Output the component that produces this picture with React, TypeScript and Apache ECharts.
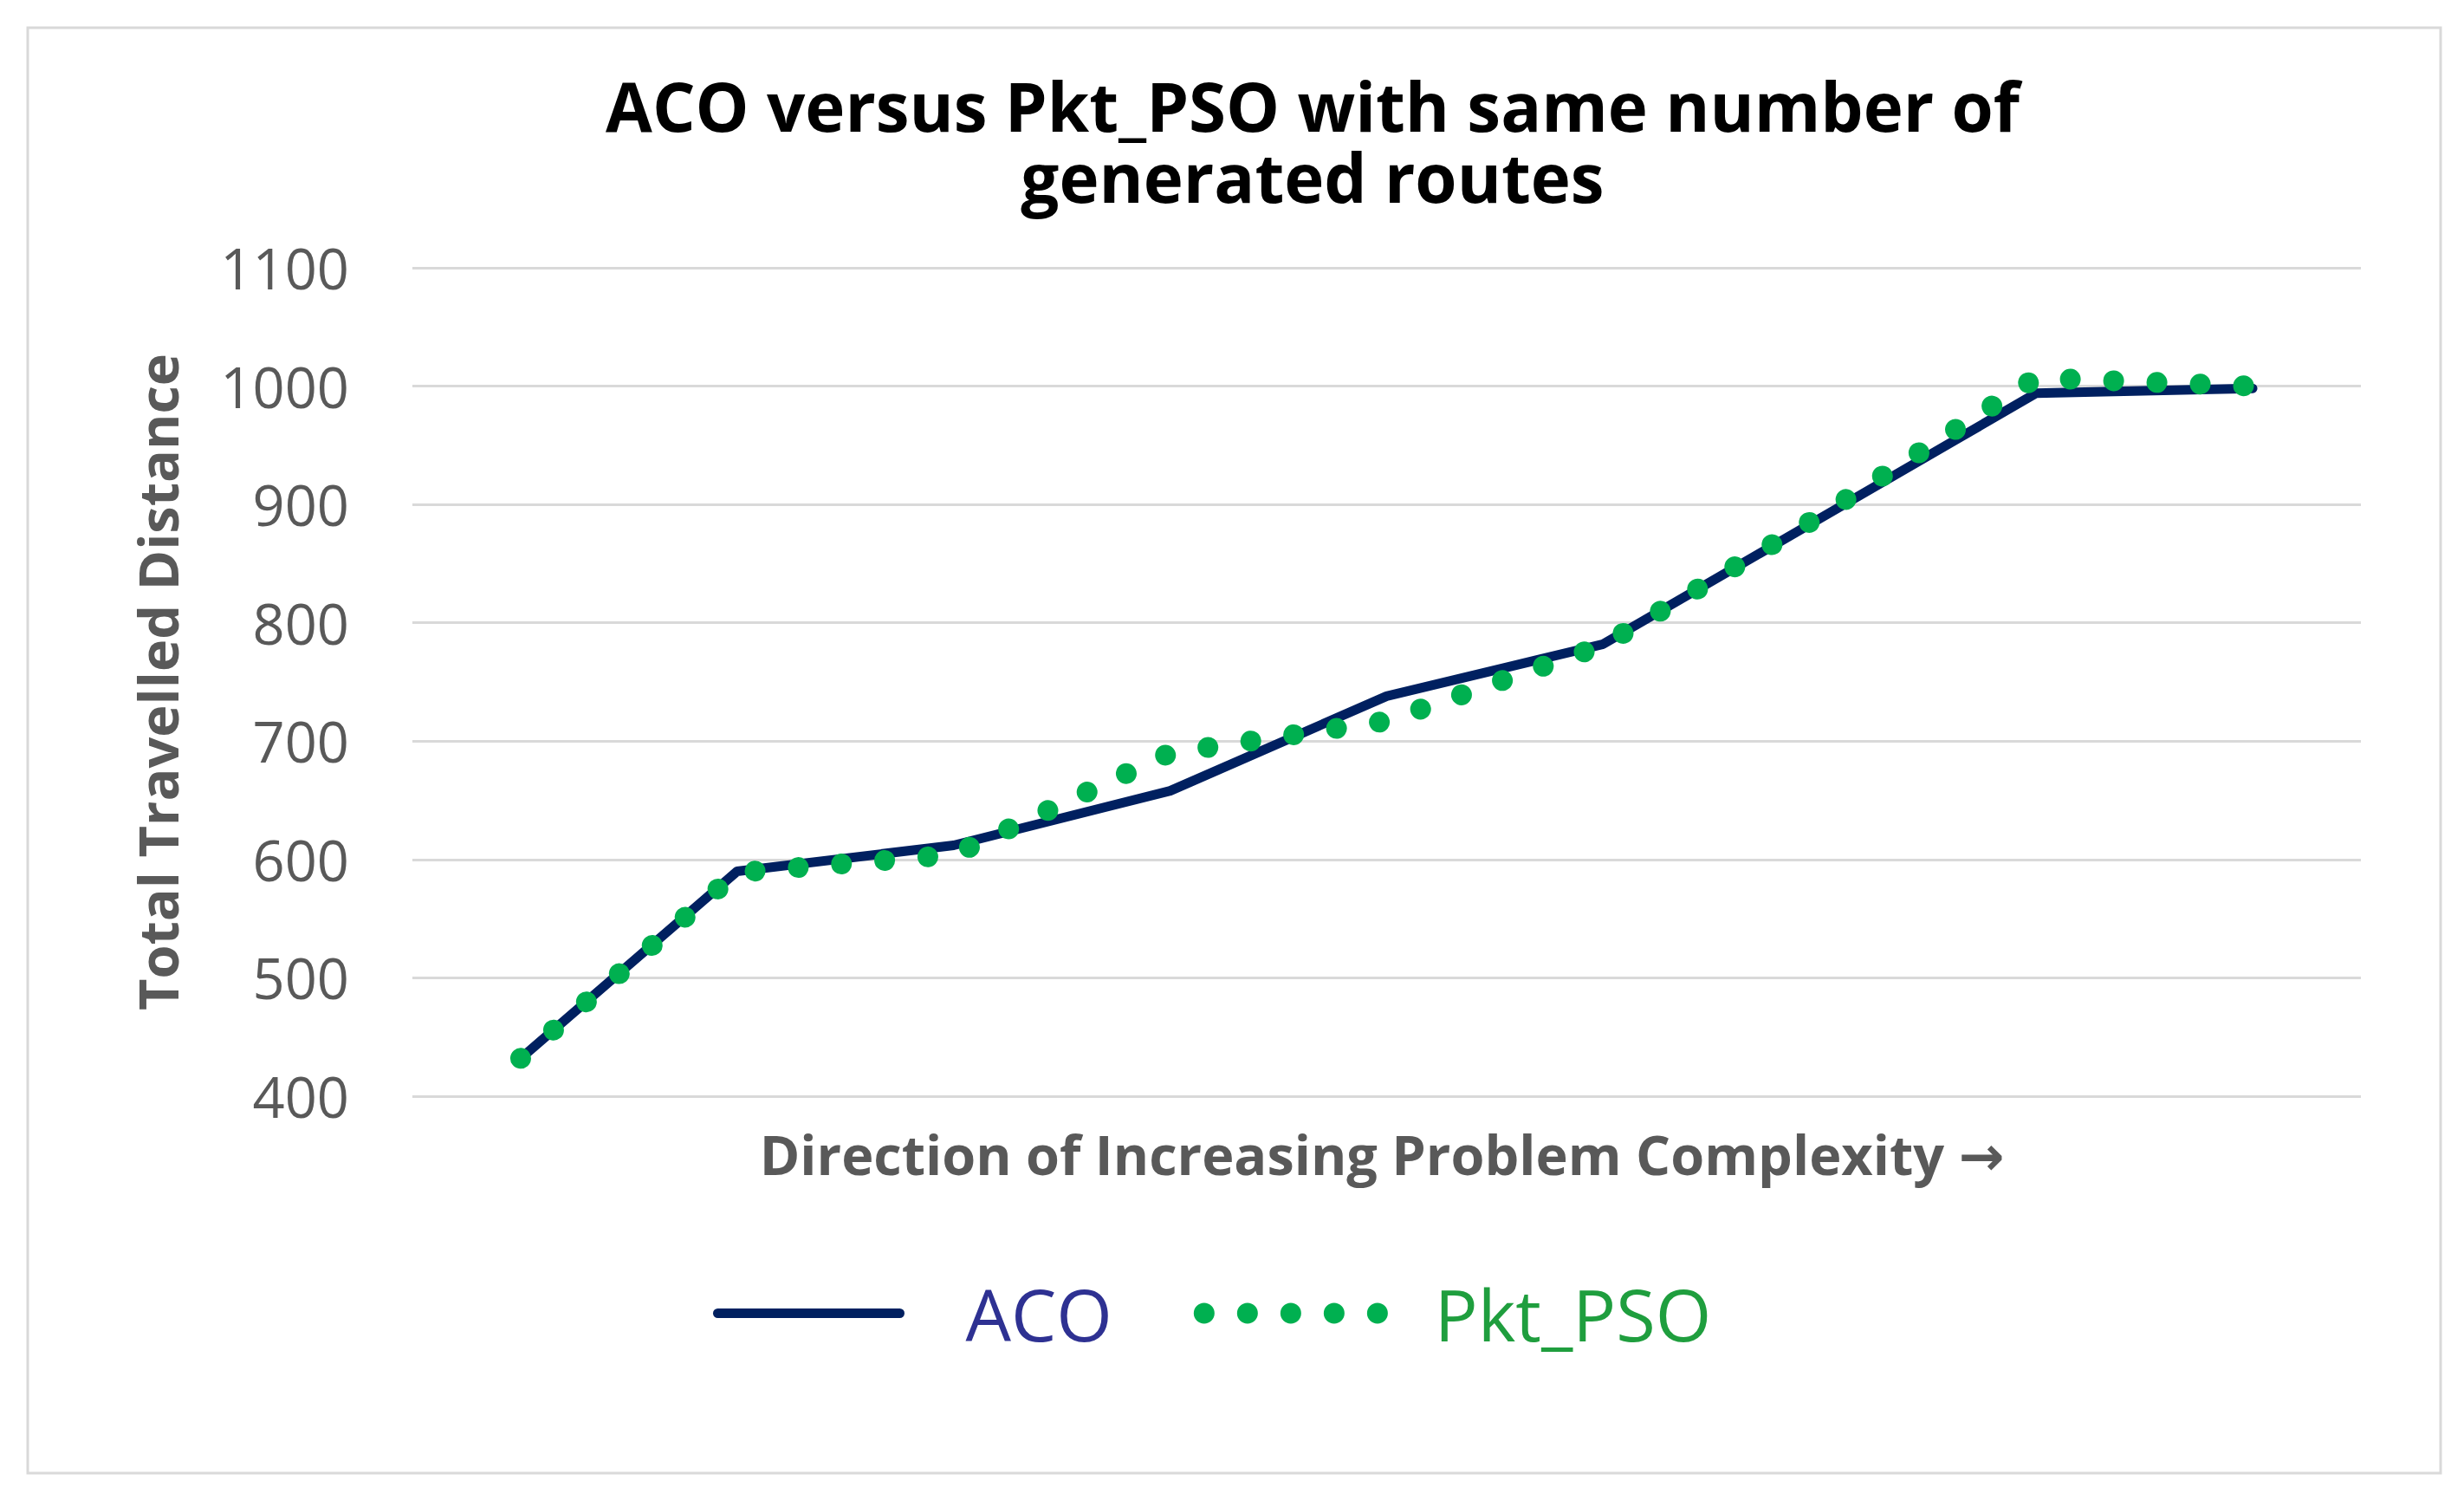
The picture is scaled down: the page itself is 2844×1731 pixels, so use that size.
import React, { useEffect, useRef } from "react";
import * as echarts from "echarts";

// ---- data ----
const categories = ["1", "2", "3", "4", "5", "6", "7", "8", "9"];
const acoValues = [432, 590, 612, 658, 738, 782, 888, 994, 998];
const pktPsoValues = [432, 589, 604, 690, 717, 781, 890, 1007, 1000];
const yMin = 400;
const yMax = 1100;
const yInterval = 100;
const titleLines = ["ACO versus Pkt_PSO with same number of", "generated routes"];
const xAxisName = "Direction of Increasing Problem Complexity \u2192";
const yAxisName = "Total Travelled Distance";
const seriesNames = ["ACO", "Pkt_PSO"];

const FONT = "'Open Sans', 'DejaVu Sans', sans-serif";

const ACO_COLOR = "#002060";
const PSO_COLOR = "#00B050";
const ACO_WIDTH = 11;
const PSO_WIDTH = 24;
const PSO_DASH = [0.01, 50];

const titleStyle = {
  fontFamily: FONT,
  fontWeight: "bold",
  fontSize: 78,
  lineHeight: 82,
  color: "#000000",
};

export default function App() {
  const ref = useRef<HTMLDivElement>(null);

  useEffect(() => {
    if (!ref.current) return;
    const chart = echarts.init(ref.current, undefined, { renderer: "svg" });
    chart.setOption({
      animation: false,
      backgroundColor: "#ffffff",
      title: titleLines.map((line, i) => ({
        text: line,
        left: 1515,
        top: 81 + i * 82,
        padding: 0,
        textAlign: "center",
        textStyle: titleStyle,
      })),
      graphic: [
        {
          type: "rect",
          shape: { x: 32, y: 32, width: 2785, height: 1668 },
          style: { fill: "none", stroke: "#D9D9D9", lineWidth: 3 },
          silent: true,
          z: -1,
        },
      ],
      legend: {
        left: 823,
        top: 1474,
        padding: 0,
        itemGap: 94,
        itemWidth: 210,
        itemHeight: 24,
        itemStyle: { opacity: 0 },
        textStyle: {
          fontFamily: FONT,
          fontSize: 83,
          padding: [0, 0, 0, 71],
        },
        data: [
          {
            name: seriesNames[0],
            textStyle: { color: "#2E3192", padding: [0, 0, 0, 71] },
            lineStyle: { width: ACO_WIDTH, color: ACO_COLOR, cap: "round" },
          },
          {
            name: seriesNames[1],
            textStyle: { color: "#1F9E3E", padding: [0, 0, 0, 51] },
            lineStyle: { width: PSO_WIDTH, color: PSO_COLOR, type: PSO_DASH, cap: "round" },
          },
        ],
      },
      grid: { left: 476, right: 119, top: 309, bottom: 466 },
      xAxis: {
        type: "category",
        data: categories,
        boundaryGap: true,
        axisLine: { show: false },
        axisTick: { show: false },
        axisLabel: { show: false },
        splitLine: { show: false },
        name: xAxisName,
        nameLocation: "middle",
        nameGap: 35,
        nameTextStyle: {
          fontFamily: FONT,
          fontWeight: "bold",
          fontSize: 63,
          color: "#595959",
          padding: [0, 11, 0, 0],
        },
      },
      yAxis: {
        type: "value",
        min: yMin,
        max: yMax,
        interval: yInterval,
        axisLine: { show: false },
        axisTick: { show: false },
        axisLabel: {
          fontFamily: FONT,
          fontSize: 65,
          color: "#595959",
          margin: 73,
          formatter: (v: number) => String(v),
        },
        splitLine: { lineStyle: { color: "#D9D9D9", width: 3 } },
        name: yAxisName,
        nameLocation: "middle",
        nameGap: 263,
        nameTextStyle: {
          fontFamily: FONT,
          fontWeight: "bold",
          fontSize: 63,
          color: "#595959",
        },
      },
      series: [
        {
          name: seriesNames[0],
          type: "line",
          data: acoValues,
          showSymbol: false,
          symbol: "none",
          lineStyle: { color: ACO_COLOR, width: ACO_WIDTH, cap: "round", join: "round" },
          itemStyle: { color: ACO_COLOR },
          z: 2,
        },
        {
          name: seriesNames[1],
          type: "line",
          data: pktPsoValues,
          showSymbol: false,
          symbol: "none",
          lineStyle: {
            color: PSO_COLOR,
            width: PSO_WIDTH,
            type: PSO_DASH,
            cap: "round",
            join: "round",
          },
          itemStyle: { color: PSO_COLOR },
          z: 3,
        },
      ],
    });
    return () => chart.dispose();
  }, []);

  return (
    <div
      ref={ref}
      style={{ position: "fixed", left: 0, top: 0, width: 2844, height: 1731, background: "#fff" }}
    />
  );
}
